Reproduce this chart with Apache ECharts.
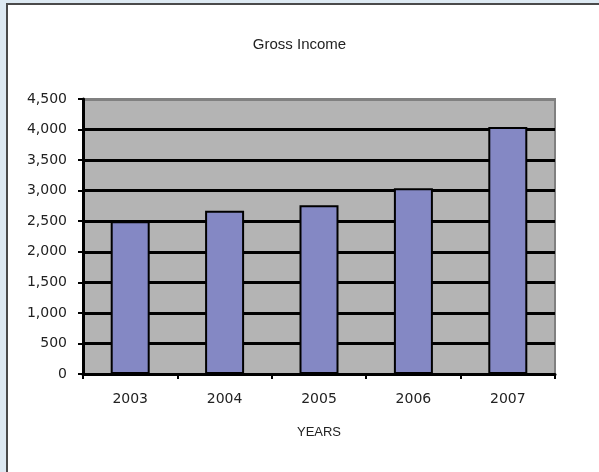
<!DOCTYPE html>
<html>
<head>
<meta charset="utf-8">
<script src="https://cdn.jsdelivr.net/npm/echarts@6/dist/echarts.min.js"></script>
<style>
  body { margin: 0; background: #dde9f2; }
  #box { position: absolute; left: 6px; top: 3px; width: 593px; height: 469px; background: #fff;
         border-left: 2px solid #4a4a4a; border-top: 2px solid #4a4a4a; box-sizing: border-box; }
  #main { position: absolute; left: 0; top: 0; width: 599px; height: 472px; }
</style>
</head>
<body>
<div id="box"></div>
<div id="main"></div>
<script>
// 数据
var years = ['2003', '2004', '2005', '2006', '2007'];
var income = [2500, 2670, 2760, 3040, 4040];
var yMax = 4500;
var yStep = 500;

// 最上面一条网格线是灰色
var gridColors = [];
for (var i = 0; i <= yMax / yStep; i++) {
    gridColors.push(i == yMax / yStep ? '#808080' : '#000');
}

var myChart = echarts.init(document.getElementById('main'));
var option = {
    animation: false,
    title: {
        text: 'Gross Income',
        left: 'center',
        top: 32,
        textStyle: { fontFamily: 'Liberation Sans', fontSize: 15, fontWeight: 'normal', color: '#222' }
    },
    grid: {
        show: true,
        left: 83,
        top: 99,
        width: 472,
        height: 275,
        backgroundColor: '#b4b4b4',
        borderColor: '#808080',
        borderWidth: 2
    },
    xAxis: {
        type: 'category',
        data: years,
        name: 'YEARS',
        nameLocation: 'middle',
        nameGap: 52,
        nameTextStyle: { fontFamily: 'Liberation Sans', fontSize: 13, color: '#222' },
        axisLine: { lineStyle: { color: '#000', width: 3 } },
        axisTick: { show: true, length: 5, lineStyle: { color: '#000', width: 2 } },
        axisLabel: { margin: 18, fontFamily: 'DejaVu Sans', fontSize: 14, color: '#222' }
    },
    yAxis: {
        type: 'value',
        min: 0,
        max: yMax,
        interval: yStep,
        axisLine: { show: true, lineStyle: { color: '#000', width: 3 } },
        axisTick: { show: true, length: 5, lineStyle: { color: '#000', width: 2 } },
        axisLabel: {
            margin: 16,
            fontFamily: 'DejaVu Sans',
            fontSize: 14,
            color: '#222',
            formatter: function (v) { return v.toLocaleString('en-US'); }
        },
        splitLine: { show: true, lineStyle: { color: gridColors, width: 3 } }
    },
    series: [{
        type: 'bar',
        data: income,
        barWidth: 39,
        itemStyle: { color: '#8488c4', borderColor: '#000', borderWidth: 2 }
    }]
};
myChart.setOption(option);
</script>
</body>
</html>
